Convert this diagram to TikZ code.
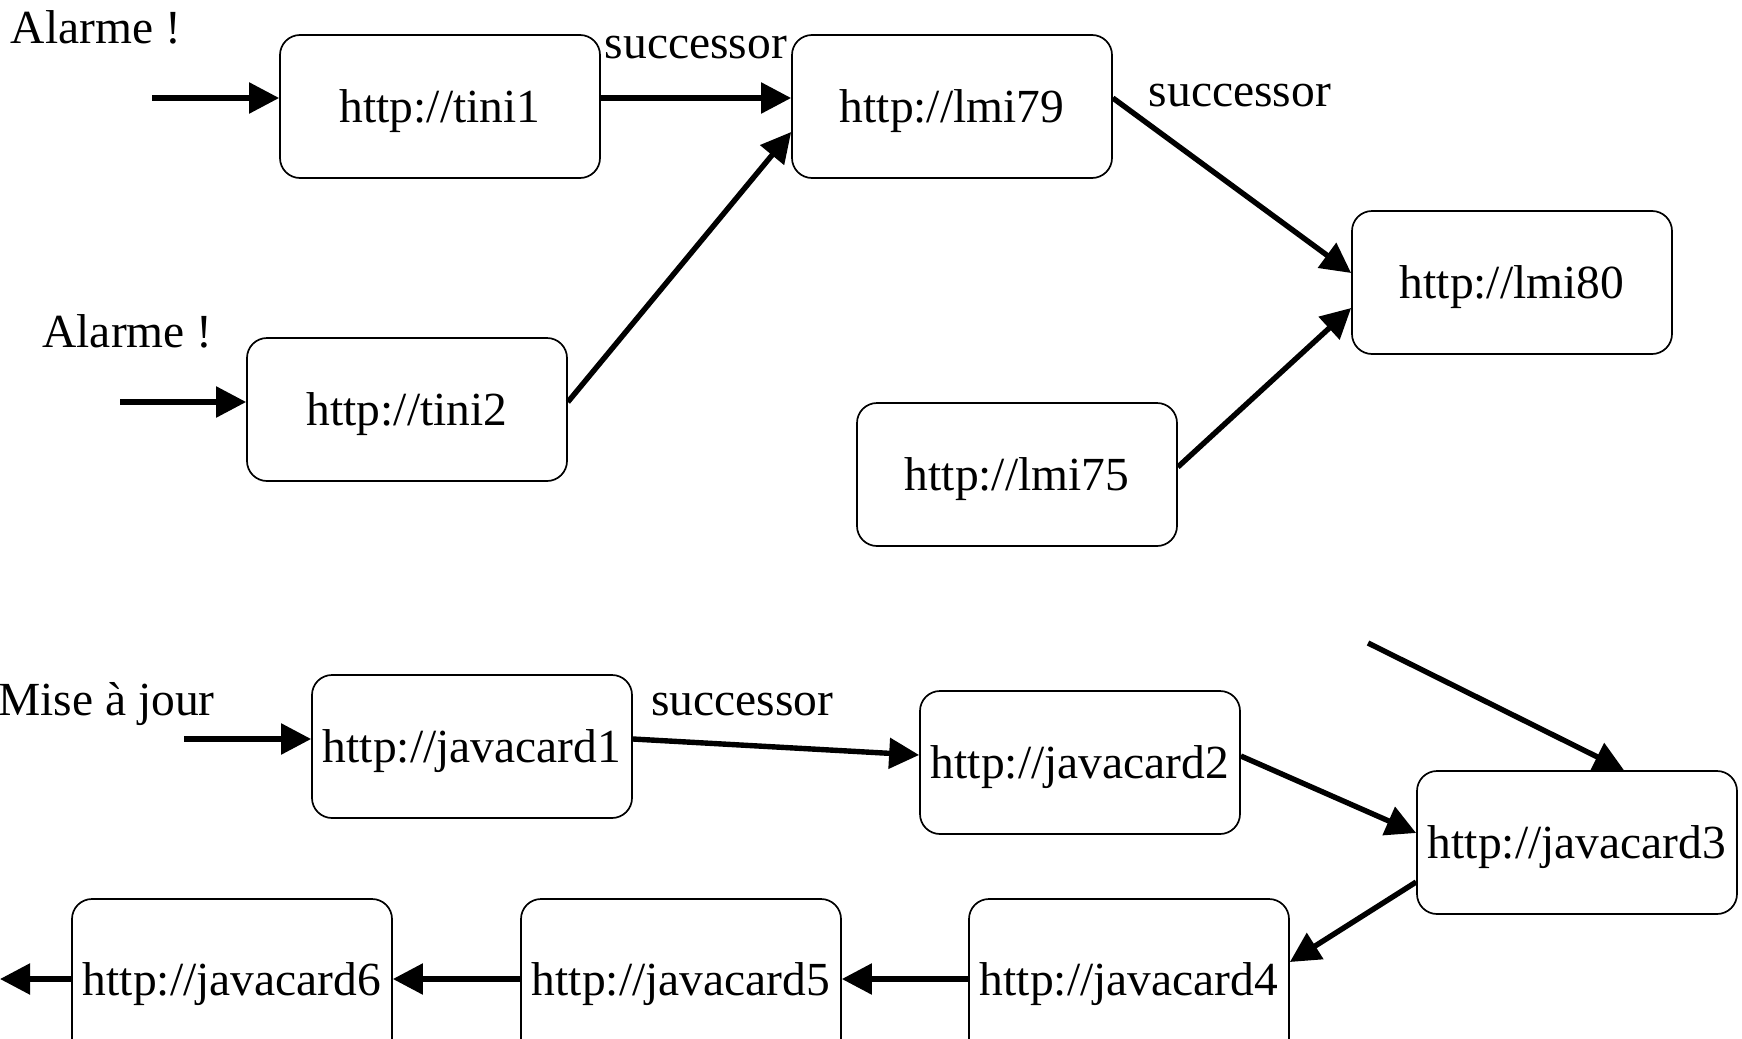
\documentclass[tikz,border=0pt]{standalone}
\usepackage{fontspec}
\setmainfont{Liberation Serif}
\usetikzlibrary{arrows.meta,calc}
\begin{document}
\begin{tikzpicture}[x=0.5pt,y=-0.5pt,
  font=\fontsize{23.75pt}{28pt}\selectfont,
  host/.style={draw,line width=0.85pt,rounded corners=10pt,fill=white,
    minimum width=160pt,minimum height=71.5pt,inner sep=0pt,
    text height=16pt,text depth=0pt},
  lowhost/.style={host,minimum height=80pt},
  link/.style={line width=2.7pt,-{Triangle[length=15pt,width=15pt]}},
  lbl/.style={anchor=base,inner sep=0pt}]
\useasboundingbox (0,0) rectangle (1742,1039);

% upper network
\node[host] (tini1) at (440,106.5) {http://tini1};
\node[host] (lmi79) at (952,106.5) {http://lmi79};
\node[host] (lmi80) at (1512,282.5) {http://lmi80};
\node[host] (tini2) at (407,409.5) {http://tini2};
\node[host] (lmi75) at (1017,474.5) {http://lmi75};

\node[lbl] (alarm1) at (96,43) {Alarme !};
\node[lbl] (alarm2) at (127.5,347) {Alarme !};
\node[lbl] (succ1) at (696,58) {successor};
\node[lbl] (succ2) at (1240,106) {successor};

\coordinate (in1) at (152,98);
\coordinate (in2) at (120,402);

\draw[link] (in1) -- ($(tini1.west)+(0,-8.5)$);
\draw[link] ($(tini1.east)+(0,-8.5)$) -- ($(lmi79.west)+(0,-8.5)$);
\draw[link] ($(lmi79.east)+(0,-8.5)$) -- ($(lmi80.west)+(0,-9.5)$);
\draw[link] (in2) -- ($(tini2.west)+(0,-7.5)$);
\draw[link] ($(tini2.east)+(0,-7.5)$) -- ($(lmi79.west)+(0,25.5)$);
\draw[link] ($(lmi75.east)+(0,-7.5)$) -- ($(lmi80.west)+(0,25.5)$);

% lower chain
\node[host] (jc1) at (472,746.5) {http://javacard1};
\node[host] (jc2) at (1080,762.5) {http://javacard2};
\node[host] (jc3) at (1577,842.5) {http://javacard3};
\node[lowhost] (jc4) at (1129,979) {http://javacard4};
\node[lowhost] (jc5) at (681,979) {http://javacard5};
\node[lowhost] (jc6) at (232,979) {http://javacard6};

\node[lbl] (update) at (106.5,715) {Mise à jour};
\node[lbl] (succ3) at (742.5,715) {successor};

\coordinate (in3) at (184,739);
\coordinate (in4) at (1368,643);
\coordinate (out) at (0,979);

\draw[link] (in3) -- ($(jc1.west)+(0,-7.5)$);
\draw[link] ($(jc1.east)+(0,-7.5)$) -- ($(jc2.west)+(0,-7.5)$);
\draw[link] ($(jc2.east)+(0,-6.5)$) -- ($(jc3.west)+(0,-9.5)$);
\draw[link] (in4) -- ($(jc3.north)+(47,0)$);
\draw[link] ($(jc3.west)+(0,39.5)$) -- ($(jc4.east)+(0,-17)$);
\draw[link] (jc4.west) -- (jc5.east);
\draw[link] (jc5.west) -- (jc6.east);
\draw[link] (jc6.west) -- (out);
\end{tikzpicture}
\end{document}
